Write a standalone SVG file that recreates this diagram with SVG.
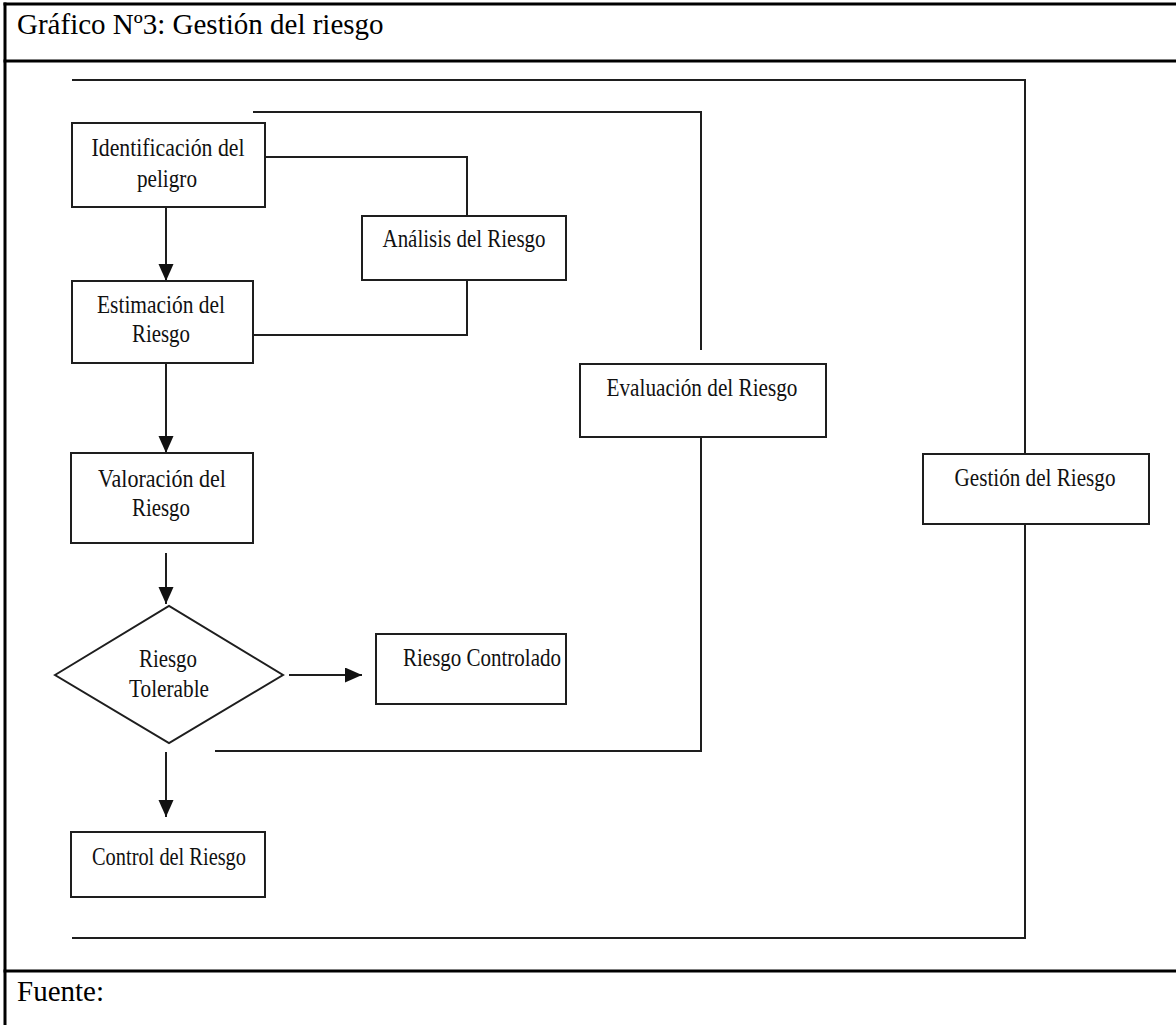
<svg xmlns="http://www.w3.org/2000/svg" width="1176" height="1025" viewBox="0 0 1176 1025">
  <defs>
    <marker id="arrow" markerUnits="userSpaceOnUse" markerWidth="18" markerHeight="18" refX="17" refY="7.5" orient="auto">
      <path d="M0,0 L17,7.5 L0,15 Z" fill="#111"/>
    </marker>
    <style>
      .frame { stroke: #000; stroke-width: 3; fill: none; }
      .box { fill: #fff; stroke: #1e1e1e; stroke-width: 2; }
      .line { fill: none; stroke: #1e1e1e; stroke-width: 2; }
      .arrow { fill: none; stroke: #1e1e1e; stroke-width: 2; marker-end: url(#arrow); }
      .lbl { font-family: "Liberation Serif", "Times New Roman", serif; font-size: 25px; fill: #111; text-anchor: middle; }
      .hdr { font-family: "Liberation Serif", "Times New Roman", serif; font-size: 29px; fill: #000; }
    </style>
  </defs>

  <rect width="1176" height="1025" fill="#fff"/>

  <!-- table frame -->
  <g id="table">
    <line class="frame" x1="3.5" y1="4" x2="1176" y2="4"/>
    <line class="frame" x1="5" y1="2.5" x2="5" y2="1025"/>
    <line class="frame" x1="3.5" y1="61" x2="1176" y2="61"/>
    <line class="frame" x1="3.5" y1="971" x2="1176" y2="971"/>
    <text class="hdr" x="17" y="34">Gráfico Nº3: Gestión del riesgo</text>
    <text class="hdr" x="17" y="1001">Fuente:</text>
  </g>

  <!-- connectors -->
  <g id="connectors">
    <path class="line" d="M72,80 H1025 V454"/>
    <path class="line" d="M1025,524 V938 H72"/>
    <path class="line" d="M253,112 H701 V350"/>
    <path class="line" d="M701,437 V751 H215"/>
    <path class="line" d="M265,157 H467 V216"/>
    <path class="line" d="M467,280 V335 H253"/>
    <path class="arrow" d="M166,207 V281"/>
    <path class="arrow" d="M166,363 V453"/>
    <path class="arrow" d="M166,553 V604"/>
    <path class="arrow" d="M289,675 H362"/>
    <path class="arrow" d="M166,752 V817"/>
  </g>

  <!-- nodes -->
  <g id="identificacion">
    <rect class="box" x="72" y="123" width="193" height="84"/>
    <text class="lbl" x="168" y="156" textLength="153" lengthAdjust="spacingAndGlyphs">Identificación del</text>
    <text class="lbl" x="167" y="187" textLength="60" lengthAdjust="spacingAndGlyphs">peligro</text>
  </g>

  <g id="analisis">
    <rect class="box" x="362" y="216" width="204" height="64"/>
    <text class="lbl" x="464" y="247" textLength="163" lengthAdjust="spacingAndGlyphs">Análisis del Riesgo</text>
  </g>

  <g id="estimacion">
    <rect class="box" x="72" y="281" width="181" height="82"/>
    <text class="lbl" x="161" y="313" textLength="128" lengthAdjust="spacingAndGlyphs">Estimación del</text>
    <text class="lbl" x="161" y="342" textLength="58" lengthAdjust="spacingAndGlyphs">Riesgo</text>
  </g>

  <g id="valoracion">
    <rect class="box" x="71" y="453" width="182" height="90"/>
    <text class="lbl" x="162" y="487" textLength="128" lengthAdjust="spacingAndGlyphs">Valoración del</text>
    <text class="lbl" x="161" y="516" textLength="58" lengthAdjust="spacingAndGlyphs">Riesgo</text>
  </g>

  <g id="tolerable">
    <polygon class="box" points="55,675 169,606 283,675 169,743"/>
    <text class="lbl" x="168" y="667" textLength="58" lengthAdjust="spacingAndGlyphs">Riesgo</text>
    <text class="lbl" x="169" y="697" textLength="80" lengthAdjust="spacingAndGlyphs">Tolerable</text>
  </g>

  <g id="controlado">
    <rect class="box" x="376" y="634" width="190" height="70"/>
    <text class="lbl" x="482" y="666" textLength="158" lengthAdjust="spacingAndGlyphs">Riesgo Controlado</text>
  </g>

  <g id="control">
    <rect class="box" x="71" y="832" width="194" height="65"/>
    <text class="lbl" x="169" y="865" textLength="154" lengthAdjust="spacingAndGlyphs">Control del Riesgo</text>
  </g>

  <g id="evaluacion">
    <rect class="box" x="580" y="364" width="246" height="73"/>
    <text class="lbl" x="702" y="396" textLength="191" lengthAdjust="spacingAndGlyphs">Evaluación del Riesgo</text>
  </g>

  <g id="gestion">
    <rect class="box" x="923" y="454" width="226" height="70"/>
    <text class="lbl" x="1035" y="486" textLength="161" lengthAdjust="spacingAndGlyphs">Gestión del Riesgo</text>
  </g>
</svg>
